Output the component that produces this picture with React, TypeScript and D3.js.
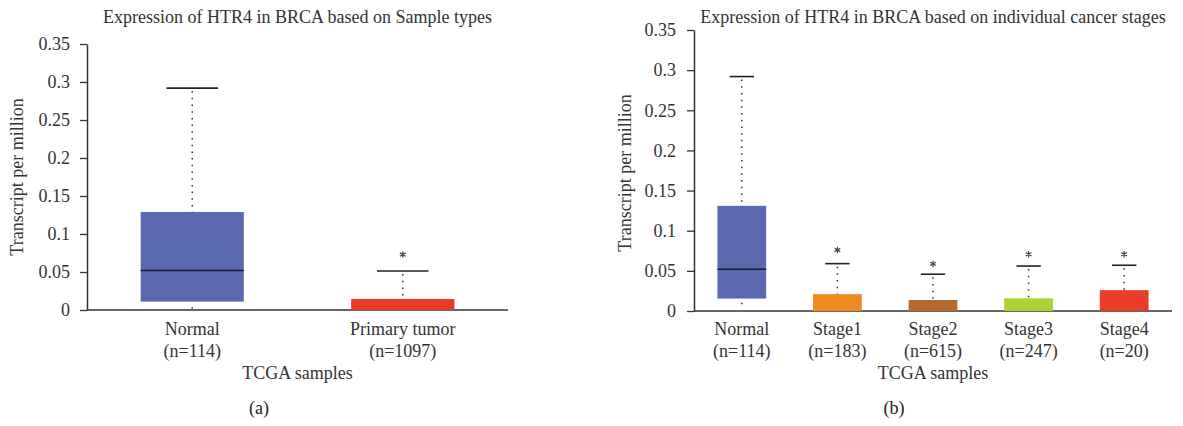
import React, { useRef, useEffect } from "react";
import * as d3 from "d3";

// panel (a): sample types
const groupsA = ["Normal", "Primary tumor"];
const countsA = ["(n=114)", "(n=1097)"];
const lowA = [0.002, 0];
const q1A = [0.011, 0];
const medianA = [0.052, 0];
const q3A = [0.129, 0.0145];
const highA = [0.292, 0.0513];
const outlierA = [null, 0.073];
const colorsA = ["#5a68b0", "#e83c27"];

// panel (b): cancer stages
const groupsB = ["Normal", "Stage1", "Stage2", "Stage3", "Stage4"];
const countsB = ["(n=114)", "(n=183)", "(n=615)", "(n=247)", "(n=20)"];
const lowB = [0.0084, 0, 0, 0, 0];
const q1B = [0.0155, 0, 0, 0, 0];
const medianB = [0.052, 0, 0, 0, 0];
const q3B = [0.131, 0.021, 0.0137, 0.0158, 0.026];
const highB = [0.292, 0.059, 0.0458, 0.056, 0.057];
const outlierB = [null, 0.076, 0.0586, 0.0707, 0.0707];
const colorsB = ["#5a68b0", "#ee8a22", "#b4692f", "#add035", "#e83d28"];

const yTicks = [0, 0.05, 0.1, 0.15, 0.2, 0.25, 0.3, 0.35];
const FONT = "'Liberation Serif', 'Times New Roman', serif";
const FS = 18;

function drawPanel(svg, cfg) {
  const g = svg.append("g");
  const x = d3.scaleBand().domain(cfg.groups).range([cfg.x0, cfg.x1]).paddingInner(0).paddingOuter(0);
  const y = d3.scaleLinear().domain([0, 0.35]).range([cfg.y0, cfg.y1]);
  const bw = x.bandwidth() * cfg.boxFrac;
  const cx = (d) => x(d) + x.bandwidth() / 2;

  // y axis
  const yAxis = g.append("g")
    .attr("transform", `translate(${cfg.x0},0)`)
    .call(d3.axisLeft(y).tickValues(yTicks).tickFormat((d) => String(d)).tickSize(7).tickSizeOuter(0).tickPadding(cfg.tickPad));
  yAxis.attr("font-family", FONT).attr("font-size", FS);
  yAxis.select(".domain").attr("stroke", "#333").attr("stroke-width", 1.5);
  yAxis.selectAll(".tick line").attr("stroke", "#333").attr("stroke-width", 1.3);
  yAxis.selectAll(".tick text").attr("font-family", FONT).attr("font-size", FS).attr("fill", "#333");

  // x axis line
  g.append("line")
    .attr("x1", cfg.x0).attr("x2", cfg.x1)
    .attr("y1", y(0)).attr("y2", y(0))
    .attr("stroke", "#333").attr("stroke-width", 1.5);

  const rows = cfg.groups.map((name, i) => ({
    name, low: cfg.low[i], q1: cfg.q1[i], med: cfg.med[i], q3: cfg.q3[i],
    high: cfg.high[i], out: cfg.out[i], color: cfg.colors[i], n: cfg.counts[i],
  }));

  const boxes = g.selectAll(".box").data(rows).enter().append("g");

  // upper whisker (dotted)
  boxes.append("line")
    .attr("x1", (d) => cx(d.name)).attr("x2", (d) => cx(d.name))
    .attr("y1", (d) => y(d.high) + 3).attr("y2", (d) => y(d.q3))
    .attr("stroke", "#333").attr("stroke-width", 1.5).attr("stroke-dasharray", "1.5,5.2");

  // lower whisker (dotted)
  boxes.filter((d) => d.low < d.q1).append("line")
    .attr("x1", (d) => cx(d.name)).attr("x2", (d) => cx(d.name))
    .attr("y1", (d) => y(d.low)).attr("y2", (d) => y(d.q1))
    .attr("stroke", "#333").attr("stroke-width", 1.5).attr("stroke-dasharray", "1.5,5.2");

  // whisker cap
  boxes.append("line")
    .attr("x1", (d) => cx(d.name) - bw / 4).attr("x2", (d) => cx(d.name) + bw / 4)
    .attr("y1", (d) => y(d.high)).attr("y2", (d) => y(d.high))
    .attr("stroke", "#222").attr("stroke-width", 1.6);

  // box
  boxes.append("rect")
    .attr("x", (d) => cx(d.name) - bw / 2)
    .attr("width", bw)
    .attr("y", (d) => y(d.q3))
    .attr("height", (d) => y(d.q1) - y(d.q3))
    .attr("fill", (d) => d.color);

  // median
  boxes.filter((d) => d.med > 0).append("line")
    .attr("x1", (d) => cx(d.name) - bw / 2).attr("x2", (d) => cx(d.name) + bw / 2)
    .attr("y1", (d) => y(d.med)).attr("y2", (d) => y(d.med))
    .attr("stroke", "#1a1a2a").attr("stroke-width", 1.5);

  // outlier marks
  boxes.filter((d) => d.out != null).append("path")
    .attr("transform", (d) => `translate(${cx(d.name)},${y(d.out)})`)
    .attr("d", d3.symbol(d3.symbolAsterisk, 30)())
    .attr("fill", "none").attr("stroke", "#444").attr("stroke-width", 1.2);

  // x labels
  boxes.append("text")
    .attr("x", (d) => cx(d.name)).attr("y", 335)
    .attr("text-anchor", "middle").attr("font-family", FONT).attr("font-size", FS).attr("fill", "#333")
    .text((d) => d.name);
  boxes.append("text")
    .attr("x", (d) => cx(d.name)).attr("y", 357)
    .attr("text-anchor", "middle").attr("font-family", FONT).attr("font-size", FS).attr("fill", "#333")
    .text((d) => d.n);

  // axis titles
  g.append("text")
    .attr("x", (cfg.x0 + cfg.x1) / 2).attr("y", 379)
    .attr("text-anchor", "middle").attr("font-family", FONT).attr("font-size", FS).attr("fill", "#333")
    .text("TCGA samples");
  g.append("text")
    .attr("transform", `translate(${cfg.yLabX},${cfg.yLabY}) rotate(-90)`)
    .attr("text-anchor", "middle").attr("font-family", FONT).attr("font-size", FS).attr("fill", "#333")
    .text("Transcript per million");
  g.append("text")
    .attr("x", (cfg.x0 + cfg.x1) / 2).attr("y", 23)
    .attr("text-anchor", "middle").attr("font-family", FONT).attr("font-size", FS).attr("fill", "#333")
    .text(cfg.title);
  g.append("text")
    .attr("x", cfg.tagX).attr("y", 414)
    .attr("text-anchor", "middle").attr("font-family", FONT).attr("font-size", FS).attr("fill", "#222")
    .text(cfg.tag);
}

export default function App() {
  const svgRef = useRef(null);

  useEffect(() => {
    const svg = d3.select(svgRef.current);
    svg.selectAll("*").remove();

    drawPanel(svg, {
      groups: groupsA, counts: countsA, low: lowA, q1: q1A, med: medianA, q3: q3A,
      high: highA, out: outlierA, colors: colorsA,
      x0: 87, x1: 508, y0: 310, y1: 44, boxFrac: 0.49, tickPad: 10,
      yLabX: 23, yLabY: 177, tagX: 259, tag: "(a)",
      title: "Expression of HTR4 in BRCA based on Sample types",
    });
    drawPanel(svg, {
      groups: groupsB, counts: countsB, low: lowB, q1: q1B, med: medianB, q3: q3B,
      high: highB, out: outlierB, colors: colorsB,
      x0: 694, x1: 1172, y0: 311, y1: 30, boxFrac: 0.51, tickPad: 11,
      yLabX: 631, yLabY: 173, tagX: 894, tag: "(b)",
      title: "Expression of HTR4 in BRCA based on individual cancer stages",
    });
  }, []);

  return (
    <svg
      ref={svgRef}
      width={1183}
      height={426}
      style={{ position: "absolute", left: 0, top: 0, background: "#fff" }}
    />
  );
}
